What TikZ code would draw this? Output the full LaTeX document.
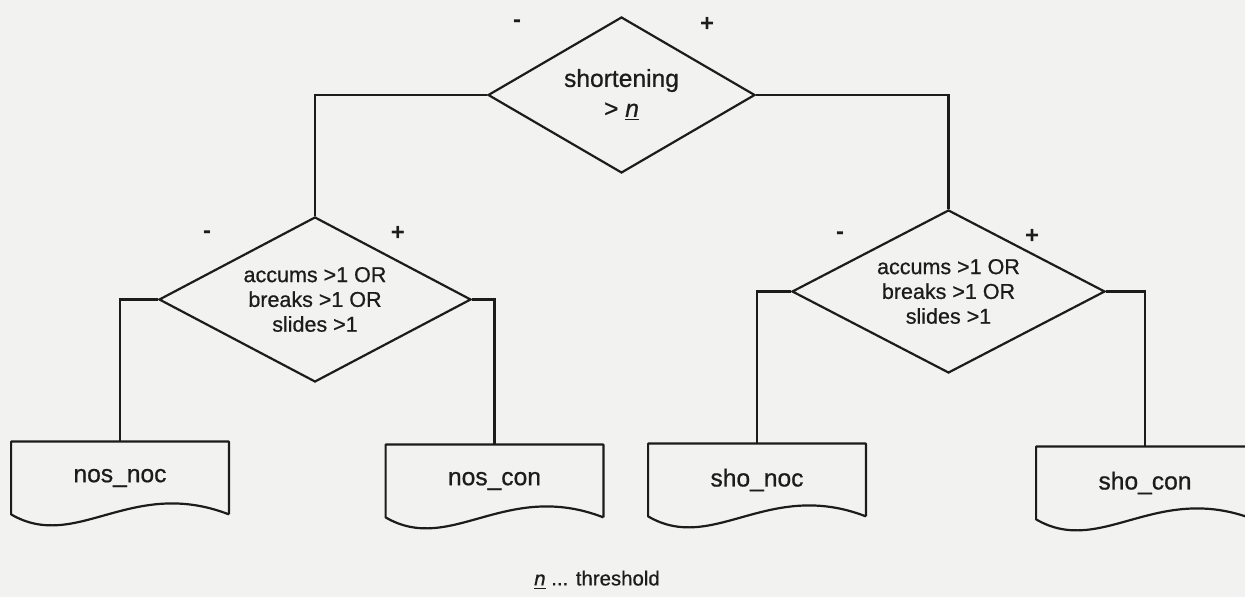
\documentclass[tikz,border=0pt]{standalone}
\usepackage{fontspec}
\setmainfont{Liberation Sans}[UprightFeatures={FakeBold=0.7},ItalicFeatures={FakeBold=0.7}]
\usetikzlibrary{shapes.geometric,calc}

\definecolor{paper}{RGB}{242,242,240}
\definecolor{ink}{RGB}{28,28,28}

\tikzset{
  wire/.style={draw=ink, line width=1.1pt},
  decision/.style={diamond, wire, inner sep=0pt, align=center, text=ink},
  smalltext/.style={font=\fontsize{10.75pt}{12.4pt}\selectfont},
  docbox/.style={rectangle, inner sep=0pt, minimum width=108.5pt,
    minimum height=36pt, text=ink, font=\fontsize{12.3pt}{14pt}\selectfont},
  sign/.style={text=ink, inner sep=0pt, font=\fontsize{12pt}{14pt}\bfseries},
}

% Outline of a flowchart "document" symbol around a named node:
% three straight sides and a wavy bottom edge.
\newcommand\docoutline[1]{%
  \draw[wire, line join=round]
    (#1.south east) -- (#1.north east) -- (#1.north west) -- (#1.south west)
    .. controls ($(#1.south west)!0.3!(#1.south east)+(0,-19pt)$)
       and ($(#1.south west)!0.55!(#1.south east)+(0,19pt)$) .. (#1.south east);}

\newcommand\thr{\underline{\textit{n}}}

\begin{document}
\begin{tikzpicture}[x=0.5pt,y=-0.5pt]
  \fill[paper] (0,0) rectangle (1245,597);
  \useasboundingbox (0,0) rectangle (1245,597);

  % decisions
  \node[decision, minimum width=133.5pt, minimum height=78pt, aspect=1.71,
        font=\fontsize{12.3pt}{15pt}\selectfont] (top) at (621.5,95)
        {shortening\\ > \thr};
  \node[decision, smalltext, minimum width=156pt, minimum height=82.5pt, aspect=1.89]
        (ld) at (315,299.5) {accums >1 OR\\breaks >1 OR\\slides >1};
  \node[decision, smalltext, minimum width=156.5pt, minimum height=81.5pt, aspect=1.92]
        (rd) at (948.5,291.5) {accums >1 OR\\breaks >1 OR\\slides >1};

  % outcomes
  \node[docbox] (nosnoc) at (120,478)   {nos\_noc};
  \node[docbox] (noscon) at (494.5,481) {nos\_con};
  \node[docbox] (shonoc) at (757,480)   {sho\_noc};
  \node[docbox] (shocon) at (1145,483)  {sho\_con};

  \docoutline{nosnoc}
  \docoutline{noscon}
  \docoutline{shonoc}
  \docoutline{shocon}

  % branches
  \draw[wire] (top.west) -| (ld.north);
  \draw[wire] (top.east) -| (rd.north);
  \draw[wire] (ld.west) -| (nosnoc.north);
  \draw[wire] (ld.east) -| (noscon.north);
  \draw[wire] (rd.west) -| (shonoc.north);
  \draw[wire] (rd.east) -| (shocon.north);

  % branch signs
  \node[sign] (tm) at (517,24)  {-};
  \node[sign] (tp) at (707,24)  {+};
  \node[sign] (lm) at (207,235) {-};
  \node[sign] (lp) at (398,233) {+};
  \node[sign] (rm) at (840,236) {-};
  \node[sign] (rp) at (1032,236) {+};

  % legend
  \node[text=ink, font=\fontsize{10.2pt}{12pt}\selectfont] (legend) at (597,580)
        {\thr\ ... threshold};
\end{tikzpicture}
\end{document}
